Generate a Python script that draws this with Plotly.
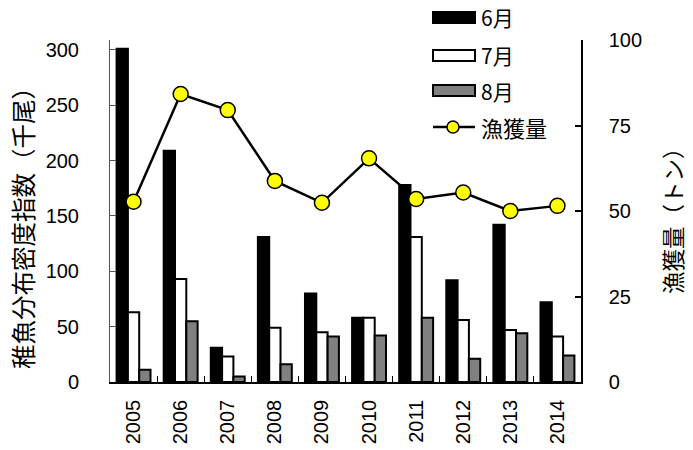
import plotly.graph_objects as go

years = ["2005", "2006", "2007", "2008", "2009", "2010", "2011", "2012", "2013", "2014"]
june = [301, 209, 31, 131, 80, 58, 178, 92, 142, 72]
july = [63, 93, 23, 49, 45, 58, 131, 56, 47, 41]
august = [11, 55, 5, 16, 41, 42, 58, 21, 44, 24]
catch_t = [52.7, 84.2, 79.5, 58.8, 52.4, 65.4, 53.5, 55.4, 50.0, 51.5]

left_ticks = [0, 50, 100, 150, 200, 250, 300]
right_ticks = [0, 25, 50, 75, 100]

TICK_FONT = dict(family="Liberation Sans, Arial", size=20, color="black")
JP_FONT = "Noto Sans CJK JP"

fig = go.Figure()
fig.add_trace(go.Bar(x=years, y=june, name="6月", marker=dict(color="black", line=dict(color="black", width=2))))
fig.add_trace(go.Bar(x=years, y=july, name="7月", marker=dict(color="white", line=dict(color="black", width=2))))
fig.add_trace(go.Bar(x=years, y=august, name="8月", marker=dict(color="#808080", line=dict(color="black", width=2))))
fig.add_trace(go.Scatter(
    x=years, y=catch_t, name="漁獲量", yaxis="y2", mode="lines+markers",
    line=dict(color="black", width=2.5),
    marker=dict(color="#FFFF00", size=15, line=dict(color="black", width=1.5)),
))

# plot-area geometry in pixels, used to place the hand-drawn legend
L, R, T, B = 110, 112, 40, 68
W, H = 693 - L - R, 450 - T - B


def px_x(px):
    return (px - L) / W


def px_y(py):
    return (450 - B - py) / H


shapes = []
annotations = []
legend_rows = [
    ("6月", "black", 17.5),
    ("7月", "white", 55.5),
    ("8月", "#808080", 90.5),
]
for label, fill, cy in legend_rows:
    shapes.append(dict(type="rect", xref="paper", yref="paper",
                       x0=px_x(433), x1=px_x(475), y0=px_y(cy - 5.5), y1=px_y(cy + 5.5),
                       fillcolor=fill, line=dict(color="black", width=2)))
    annotations.append(dict(text=label, xref="paper", yref="paper", x=px_x(479), y=px_y(cy),
                            xanchor="left", yanchor="middle", showarrow=False,
                            font=dict(family=JP_FONT, size=21, color="black")))
ly = 127
shapes.append(dict(type="line", xref="paper", yref="paper",
                   x0=px_x(433), x1=px_x(475), y0=px_y(ly), y1=px_y(ly),
                   line=dict(color="black", width=2.5)))
shapes.append(dict(type="circle", xref="paper", yref="paper",
                   x0=px_x(447), x1=px_x(459), y0=px_y(ly - 6), y1=px_y(ly + 6),
                   fillcolor="#FFFF00", line=dict(color="black", width=1.5)))
annotations.append(dict(text="漁獲量", xref="paper", yref="paper", x=px_x(479), y=px_y(ly),
                        xanchor="left", yanchor="middle", showarrow=False,
                        font=dict(family=JP_FONT, size=22, color="black")))

# axis titles
annotations.append(dict(text="稚魚分布密度指数（千尾）", xref="paper", yref="paper",
                        x=px_x(22), y=px_y(222), textangle=-90, showarrow=False,
                        xanchor="center", yanchor="middle",
                        font=dict(family=JP_FONT, size=24.5, color="black")))
annotations.append(dict(text="漁獲量（トン）", xref="paper", yref="paper",
                        x=px_x(672), y=px_y(215), textangle=-90, showarrow=False,
                        xanchor="center", yanchor="middle",
                        font=dict(family=JP_FONT, size=22.5, color="black")))

fig.update_layout(
    width=693, height=450,
    margin=dict(l=L, r=R, t=T, b=B, autoexpand=False),
    paper_bgcolor="white", plot_bgcolor="white",
    barmode="group", bargap=0.28, bargroupgap=0,
    showlegend=False,
    shapes=shapes, annotations=annotations,
    xaxis=dict(
        type="category", range=[-0.5, len(years) - 0.5],
        tickangle=-90, tickfont=TICK_FONT,
        automargin=False,
        ticks="inside", ticklen=6, tickwidth=1, tickcolor="black", tickson="boundaries",
        showline=True, linecolor="black", linewidth=1.5, ticklabelstandoff=8,
        showgrid=False, zeroline=False,
    ),
    yaxis=dict(
        range=[0, 309], tickvals=left_ticks, tickfont=TICK_FONT, automargin=False,
        ticks="inside", ticklen=6, tickwidth=1, tickcolor="#555555",
        showline=True, linecolor="#555555", linewidth=1, ticklabelstandoff=26,
        showgrid=False, zeroline=False,
    ),
    yaxis2=dict(
        range=[0, 100], tickvals=right_ticks, tickfont=TICK_FONT, overlaying="y", side="right",
        automargin=False,
        ticks="inside", ticklen=6, tickwidth=1.5, tickcolor="black",
        showline=True, linecolor="black", linewidth=1.5, ticklabelstandoff=22,
        showgrid=False, zeroline=False,
    ),
)

fig.write_html("out.html")
